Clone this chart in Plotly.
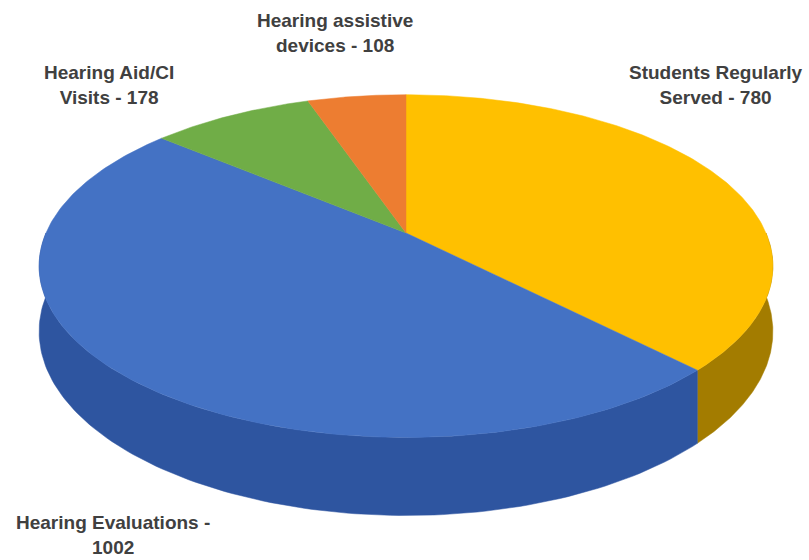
import numpy as np
import plotly.graph_objects as go

# ---- data ----
categories = ["Students Regularly Served", "Hearing Evaluations",
              "Hearing Aid/CI Visits", "Hearing assistive devices"]
values = [780, 1002, 178, 108]
label_text = ["Students Regularly<br>Served - 780", "Hearing Evaluations -<br>1002",
              "Hearing Aid/CI<br>Visits - 178", "Hearing assistive<br>devices - 108"]
top_colors = ["#FFC000", "#4472C4", "#70AD47", "#ED7D31"]
side_colors = ["#A37C00", "#2E55A0", "#4F7D32", "#B85A1E"]
label_pos = [(716, 85), (113, 535), (109, 85), (335, 33)]

# ---- geometry of the tilted (perspective) pie ----
CX, CY = 406, 233      # apex
A, B = 360, 165        # horizontal / vertical radii
K = 0.193              # perspective factor
T = 63                 # thickness


def proj(theta_deg, depth=0.0):
    th = np.radians(theta_deg)
    u, v = np.sin(th), np.cos(th)
    s = 1.0 / (1.0 + K * v)
    return CX + A * u * s, CY - B * v * s + depth * s


total = sum(values)
angles = np.cumsum([0] + [v / total * 360 for v in values])

fig = go.Figure()

# side walls (front half only)
for i in range(len(values)):
    a0, a1 = max(angles[i], 90), min(angles[i + 1], 270)
    if a1 <= a0:
        continue
    th = np.linspace(a0, a1, 120)
    xt, yt = proj(th)
    xb, yb = proj(th, T)
    xs = np.concatenate([xt, xb[::-1], xt[:1]])
    ys = np.concatenate([yt, yb[::-1], yt[:1]])
    fig.add_trace(go.Scatter(x=xs, y=ys, mode="lines", fill="toself",
                             fillcolor=side_colors[i], line=dict(width=0.5, color=side_colors[i]),
                             hoverinfo="skip", showlegend=False))

# top faces
for i in range(len(values)):
    th = np.linspace(angles[i], angles[i + 1], 200)
    xt, yt = proj(th)
    xs = np.concatenate([[CX], xt, [CX]])
    ys = np.concatenate([[CY], yt, [CY]])
    fig.add_trace(go.Scatter(x=xs, y=ys, mode="lines", fill="toself",
                             fillcolor=top_colors[i], line=dict(width=0.5, color=top_colors[i]),
                             name=categories[i], hoverinfo="name", showlegend=False))

for txt, (x, y) in zip(label_text, label_pos):
    bold = "<b>" + txt.replace("<br>", "</b><br><b>") + "</b>"
    fig.add_annotation(x=x, y=y, text=bold, showarrow=False,
                       font=dict(family="Liberation Sans, Arial", size=19, color="#404040"),
                       xanchor="center", yanchor="middle")

fig.update_layout(
    width=809, height=560, margin=dict(l=0, r=0, t=0, b=0),
    paper_bgcolor="white", plot_bgcolor="white",
    xaxis=dict(range=[0, 809], visible=False, fixedrange=True),
    yaxis=dict(range=[560, 0], visible=False, fixedrange=True),
)

fig.write_html("out.html")
